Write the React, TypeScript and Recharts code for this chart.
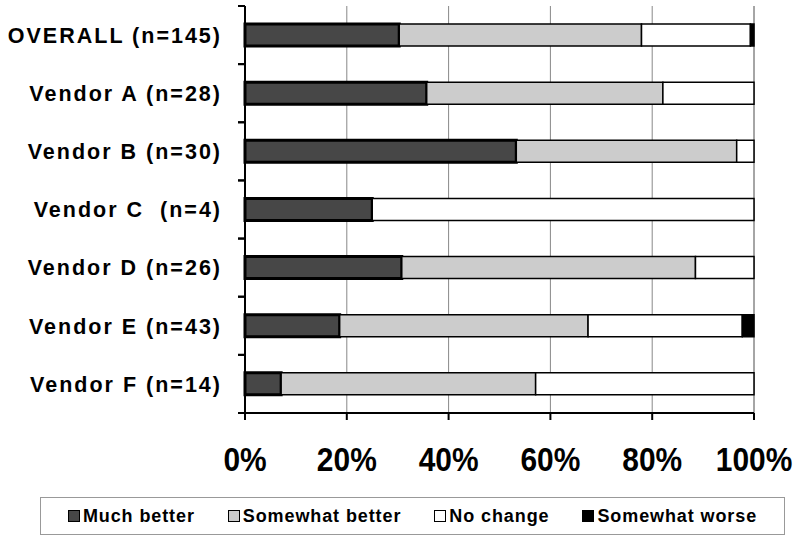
import { BarChart, Bar, XAxis, YAxis, CartesianGrid, Legend } from "recharts";

const categories = [
  "OVERALL (n=145)",
  "Vendor A (n=28)",
  "Vendor B (n=30)",
  "Vendor C\u00a0 (n=4)",
  "Vendor D (n=26)",
  "Vendor E (n=43)",
  "Vendor F (n=14)",
];
const muchBetter = [30.3, 35.7, 53.3, 25.0, 30.8, 18.6, 7.1];
const somewhatBetter = [47.6, 46.4, 43.3, 0, 57.7, 48.8, 50.0];
const noChange = [21.4, 17.9, 3.4, 75.0, 11.5, 30.3, 42.9];
const somewhatWorse = [0.7, 0, 0, 0, 0, 2.3, 0];
const xTicks = [0, 20, 40, 60, 80, 100];

const series = [
  { key: "much", name: "Much better", fill: "#474747", strokeWidth: 3 },
  { key: "somewhat", name: "Somewhat better", fill: "#cccccc", strokeWidth: 1.5 },
  { key: "none", name: "No change", fill: "#ffffff", strokeWidth: 1.5 },
  { key: "worse", name: "Somewhat worse", fill: "#000000", strokeWidth: 1.5 },
];

const data = categories.map((name, i) => ({
  name,
  much: muchBetter[i],
  somewhat: somewhatBetter[i],
  none: noChange[i],
  worse: somewhatWorse[i],
}));

const FONT = "'Liberation Sans', Arial, sans-serif";

function CategoryTick(props: any) {
  const { x, y, payload } = props;
  const half = payload?.offset ?? 29;
  return (
    <g>
      <line x1={x + 16} x2={x + 23} y1={y - half} y2={y - half} stroke="#000" strokeWidth={2} />
      <line x1={x + 16} x2={x + 23} y1={y + half} y2={y + half} stroke="#000" strokeWidth={2} />
      <text
        x={x}
        y={y}
        dy="0.36em"
        textAnchor="end"
        fontFamily={FONT}
        fontWeight="bold"
        fontSize={21.5}
        letterSpacing={2}
        fill="#000"
      >
        {payload.value}
      </text>
    </g>
  );
}

// narrow bold percent labels (no Arial Narrow available, so squeeze horizontally)
function PercentTick(props: any) {
  const { x, y, payload } = props;
  return (
    <g transform={`translate(${x},${y}) scale(0.88,1)`}>
      <text
        x={0}
        y={0}
        dy="0.71em"
        textAnchor="middle"
        fontFamily={FONT}
        fontWeight="bold"
        fontSize={34}
        fill="#000"
      >
        {`${payload.value}%`}
      </text>
    </g>
  );
}

function renderLegend() {
  return (
    <div
      style={{
        display: "flex",
        justifyContent: "center",
        alignItems: "center",
        gap: 33,
        height: "100%",
        fontFamily: FONT,
        fontWeight: "bold",
        fontSize: 18,
        letterSpacing: 0.9,
        color: "#000",
      }}
    >
      {series.map((s) => (
        <span key={s.key} style={{ display: "flex", alignItems: "center" }}>
          <span
            style={{
              display: "inline-block",
              width: 10,
              height: 10,
              background: s.fill,
              border: "1.5px solid #000",
              marginRight: 3,
            }}
          />
          {s.name}
        </span>
      ))}
    </div>
  );
}

export default function App() {
  return (
    <div style={{ position: "absolute", left: 0, top: 0 }}>
      <BarChart
        width={800}
        height={542}
        data={data}
        layout="vertical"
        margin={{ top: 6, right: 46, left: 0, bottom: 7 }}
        barCategoryGap={0}
      >
        <CartesianGrid horizontal={false} stroke="#888888" strokeWidth={1} />
        <XAxis
          xAxisId="top"
          orientation="top"
          type="number"
          domain={[0, 100]}
          height={0}
          tick={false}
          tickLine={false}
          axisLine={{ stroke: "#888888", strokeWidth: 1 }}
        />
        <XAxis
          type="number"
          domain={[0, 100]}
          ticks={xTicks}
          height={84}
          tickSize={7}
          tickMargin={27}
          axisLine={{ stroke: "#000", strokeWidth: 2 }}
          tickLine={{ stroke: "#000", strokeWidth: 2 }}
          tick={<PercentTick />}
        />
        <YAxis
          type="category"
          dataKey="name"
          width={245}
          tickSize={7}
          tickMargin={16}
          tickLine={false}
          axisLine={{ stroke: "#000", strokeWidth: 2 }}
          tick={<CategoryTick />}
          interval={0}
        />
        <Legend
          verticalAlign="bottom"
          content={renderLegend}
          wrapperStyle={{
            left: 40,
            width: 745,
            height: 38,
            bottom: 7,
            border: "1px solid #999",
            boxSizing: "border-box",
          }}
        />
        {series.map((s) => (
          <Bar
            key={s.key}
            dataKey={s.key}
            name={s.name}
            stackId="a"
            fill={s.fill}
            stroke="#000"
            strokeWidth={s.strokeWidth}
            barSize={22}
            isAnimationActive={false}
          />
        ))}
      </BarChart>
    </div>
  );
}
